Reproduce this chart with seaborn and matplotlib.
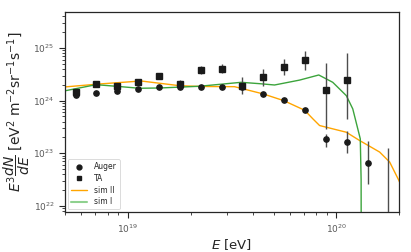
import numpy as np
import pandas as pd
import matplotlib
matplotlib.use("Agg")
import matplotlib.pyplot as plt
from matplotlib.lines import Line2D
import seaborn as sns

sns.set_theme(style="ticks")
plt.rcParams['font.family'] = ['DejaVu Sans']

# ---- data (log10 E bins) ----
auger_logE = [18.75, 18.85, 18.95, 19.05, 19.15, 19.25, 19.35, 19.45, 19.55, 19.65, 19.75, 19.85, 19.95, 20.05, 20.15, 20.25]
auger_flux = [1.28e24, 1.40e24, 1.53e24, 1.67e24, 1.79e24, 1.82e24, 1.84e24, 1.84e24, 1.85e24, 1.34e24, 1.03e24, 6.6e23, 1.88e23, 1.67e23, 6.6e22, 4.0e21]
auger_err_lo = [0.12e24, 0.08e24, 0.08e24, 0.06e24, 0.05e24, 0.05e24, 0.05e24, 0.05e24, 0.06e24, 0.05e24, 0.06e24, 0.6e23, 0.56e23, 0.67e23, 4.0e22, 4.0e21]
auger_err_hi = [0.12e24, 0.08e24, 0.08e24, 0.06e24, 0.05e24, 0.05e24, 0.05e24, 0.05e24, 0.06e24, 0.05e24, 0.06e24, 0.6e23, 0.46e23, 1.03e23, 1.04e23, 1.22e23]

ta_logE = [18.75, 18.85, 18.95, 19.05, 19.15, 19.25, 19.35, 19.45, 19.55, 19.65, 19.75, 19.85, 19.95, 20.05]
ta_flux = [1.46e24, 2.04e24, 1.87e24, 2.29e24, 2.94e24, 2.07e24, 3.8e24, 4.0e24, 1.92e24, 2.77e24, 4.4e24, 5.9e24, 1.57e24, 2.47e24]
ta_err_lo = [0.12e24, 0.12e24, 0.15e24, 0.2e24, 0.35e24, 0.3e24, 0.6e24, 0.7e24, 0.6e24, 0.9e24, 1.3e24, 2.1e24, 1.28e24, 2.02e24]
ta_err_hi = [0.12e24, 0.12e24, 0.15e24, 0.2e24, 0.35e24, 0.4e24, 0.7e24, 0.9e24, 0.9e24, 1.3e24, 1.8e24, 3.0e24, 3.6e24, 5.4e24]

simII_logE = [18.65, 18.696, 18.864, 19.064, 19.248, 19.344, 19.512, 19.65, 19.748, 19.848, 19.888, 19.92, 20.048, 20.112, 20.208, 20.256, 20.30, 20.32]
simII_logF = [24.25, 24.259, 24.316, 24.373, 24.284, 24.269, 24.265, 24.127, 24.0, 23.818, 23.653, 23.527, 23.40, 23.242, 23.023, 22.833, 22.485, 22.3]

simI_logE = [18.65, 18.696, 18.848, 18.944, 19.056, 19.152, 19.344, 19.544, 19.632, 19.704, 19.824, 19.916, 19.983, 20.048, 20.079, 20.103, 20.115, 20.119, 20.12]
simI_logF = [24.16, 24.184, 24.303, 24.273, 24.235, 24.24, 24.273, 24.348, 24.322, 24.297, 24.39, 24.487, 24.348, 24.095, 23.843, 23.464, 23.275, 22.5, 20.0]

auger_E = 10 ** np.array(auger_logE)
ta_E = 10 ** np.array(ta_logE)

fig = plt.figure(figsize=(4.11, 2.52), dpi=100)
ax = fig.add_axes([0.158, 0.159, 0.813, 0.793])

orange = "#ffa500"
green = "#3ca43c"
df2 = pd.DataFrame({"E": 10 ** np.array(simII_logE), "F": 10 ** np.array(simII_logF)})
df1 = pd.DataFrame({"E": 10 ** np.array(simI_logE), "F": 10 ** np.array(simI_logF)})
sns.lineplot(data=df2, x="E", y="F", ax=ax, color=orange, lw=1.0, sort=False, legend=False)
sns.lineplot(data=df1, x="E", y="F", ax=ax, color=green, lw=1.0, sort=False, legend=False)

ax.errorbar(auger_E, auger_flux, yerr=[auger_err_lo, auger_err_hi], fmt="o", color="k",
            ms=3.8, ecolor="0.3", elinewidth=1.0, capsize=0, zorder=5)
ax.errorbar(ta_E, ta_flux, yerr=[ta_err_lo, ta_err_hi], fmt="s", color="k",
            ms=3.8, ecolor="0.3", elinewidth=1.0, capsize=0, zorder=5)

ax.set_xscale("log")
ax.set_yscale("log")
ax.set_xlim(5.0e18, 2.0e20)
ax.set_ylim(7.7e21, 4.8e25)
ax.set_xlabel("$E$ [eV]", fontsize=9.5, labelpad=2)
ax.set_ylabel(r"$E^3\dfrac{dN}{dE}$ [eV$^2$ m$^{-2}$sr$^{-1}$s$^{-1}$]", fontsize=10, labelpad=1)
ax.tick_params(axis="both", which="major", labelsize=6.5, length=4, width=0.8, colors="0.15", labelcolor="0.35")
ax.tick_params(axis="both", which="minor", length=2, width=0.6)
for s in ax.spines.values():
    s.set_linewidth(0.9)
    s.set_color("0.15")

handles = [
    Line2D([], [], ls="none", marker="o", color="k", ms=3.5),
    Line2D([], [], ls="none", marker="s", color="k", ms=3.5),
    Line2D([], [], color=orange, lw=1.0),
    Line2D([], [], color="#8fd18f", lw=1.5),
]
leg = ax.legend(handles, ["Auger", "TA", "sim II", "sim I"], loc="lower left",
                fontsize=5.5, frameon=True, borderpad=0.4, handlelength=2.2,
                labelspacing=0.35, handletextpad=0.8, borderaxespad=0.35)
leg.get_frame().set_linewidth(0.6)

fig.savefig("out.png", dpi=100)
